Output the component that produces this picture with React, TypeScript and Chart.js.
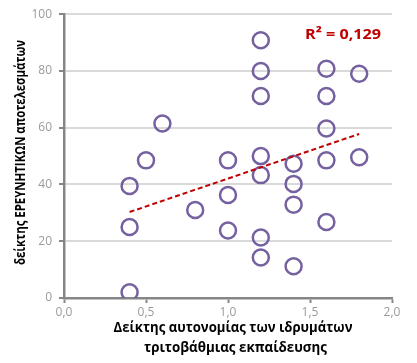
import React, { useEffect, useRef } from "react";
import { Chart, registerables } from "chart.js";

Chart.register(...registerables);

const pointX = [0.4, 0.4, 0.4, 0.5, 0.6, 0.8, 1.0, 1.0, 1.0, 1.2, 1.2, 1.2, 1.2, 1.2, 1.2, 1.2, 1.4, 1.4, 1.4, 1.4, 1.6, 1.6, 1.6, 1.6, 1.6, 1.8, 1.8];
const pointY = [2, 25, 39.5, 48.5, 61.5, 31, 48.5, 36.3, 23.8, 90.8, 80, 71.2, 50, 43.3, 21.3, 14.3, 47.3, 40.2, 32.9, 11.2, 80.8, 71.2, 59.7, 48.5, 26.8, 79, 49.6];
const trendX = [0.4, 1.8];
const trendY = [30.3, 57.8];
const xTicks = ["0,0", "0,5", "1,0", "1,5", "2,0"];
const xTitle = ["Δείκτης αυτονομίας των ιδρυμάτων", "τριτοβάθμιας εκπαίδευσης"];
const yTitle = "δείκτης ΕΡΕΥΝΗΤΙΚΩΝ αποτελεσμάτων";
const r2Label = "R² = 0,129";

const FONT = "'Open Sans', 'DejaVu Sans', sans-serif";

function fitText(ctx: CanvasRenderingContext2D, text: string, cx: number, cy: number, width: number, rot: number) {
  const w = ctx.measureText(text).width;
  ctx.save();
  ctx.translate(cx, cy);
  ctx.rotate(rot);
  ctx.scale(width / w, 1);
  ctx.textAlign = "center";
  ctx.textBaseline = "middle";
  ctx.fillText(text, 0, 0);
  ctx.restore();
}

export default function App() {
  const ref = useRef<HTMLCanvasElement | null>(null);
  useEffect(() => {
    const canvas = ref.current;
    if (!canvas) return;
    const textPlugin = {
      id: "texts",
      afterDraw(chart: any) {
        const ctx = chart.ctx as CanvasRenderingContext2D;
        ctx.save();
        ctx.fillStyle = "#000000";
        ctx.font = `bold 13.5px ${FONT}`;
        fitText(ctx, xTitle[0], 233, 328, 239, 0);
        fitText(ctx, xTitle[1], 235.5, 348, 183, 0);
        fitText(ctx, yTitle, 21.5, 152.5, 225, -Math.PI / 2);
        ctx.fillStyle = "#C00000";
        ctx.font = `bold 15px ${FONT}`;
        fitText(ctx, r2Label, 343, 35, 76, 0);
        ctx.restore();
      },
    };
    const chart = new Chart(canvas, {
      type: "scatter",
      data: {
        datasets: [
          {
            type: "line",
            label: "trend",
            data: trendX.map((x, i) => ({ x, y: trendY[i] })),
            borderColor: "#C00000",
            borderWidth: 2,
            borderDash: [5, 3],
            pointRadius: 0,
            fill: false,
          } as any,
          {
            label: "data",
            data: pointX.map((x, i) => ({ x, y: pointY[i] })),
            pointRadius: 8,
            pointBorderWidth: 2.5,
            borderColor: "#7560A0",
            backgroundColor: "rgba(255,255,255,0)",
            pointBackgroundColor: "rgba(255,255,255,0)",
            pointBorderColor: "#7560A0",
          },
        ],
      },
      options: {
        responsive: false,
        animation: false,
        layout: { padding: { top: 12, right: 25, left: 0, bottom: 0 } },
        plugins: { legend: { display: false }, tooltip: { enabled: false } },
        scales: {
          x: {
            type: "linear",
            min: 0,
            max: 2,
            afterFit(scale: any) {
              scale.height = 65;
            },
            ticks: {
              stepSize: 0.5,
              color: "#9A9A9A",
              font: { family: FONT, size: 12 },
              padding: 2,
              callback: (v: any) => xTicks[Math.round(Number(v) * 2)] ?? "",
            },
            grid: {
              drawOnChartArea: false,
              drawTicks: true,
              tickLength: 5,
              tickColor: "#868686",
              tickWidth: 2,
            },
            border: { color: "#868686", width: 2.5 },
          },
          y: {
            min: 0,
            max: 100,
            afterFit(scale: any) {
              scale.width = 64;
            },
            ticks: {
              stepSize: 20,
              color: "#9A9A9A",
              font: { family: FONT, size: 12 },
              padding: 7,
            },
            grid: {
              color: "#D9D9D9",
              lineWidth: 2,
              tickLength: 5,
              tickColor: "#868686",
              tickWidth: 2,
            },
            border: { color: "#868686", width: 2.5 },
          },
        },
      },
      plugins: [textPlugin],
    });
    return () => chart.destroy();
  }, []);
  return (
    <div style={{ position: "fixed", left: 0, top: 0, width: 417, height: 363, background: "#fff" }}>
      <canvas ref={ref} width={417} height={363} style={{ width: 417, height: 363 }} />
    </div>
  );
}
